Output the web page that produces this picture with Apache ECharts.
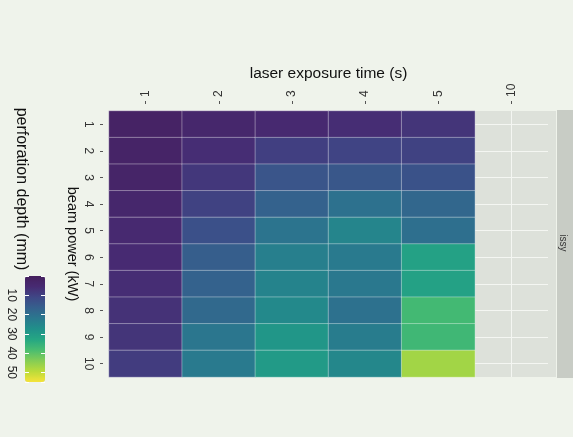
<!DOCTYPE html>
<html>
<head>
<meta charset="utf-8">
<script src="https://cdn.jsdelivr.net/npm/echarts@6/dist/echarts.min.js"></script>
<style>
html,body{margin:0;padding:0;background:#EFF3EB;}
#chart{width:573px;height:437px;}
</style>
</head>
<body>
<div id="chart"></div>
<script>
// ---- data ----
const timeCats = ['1', '2', '3', '4', '5', '10'];          // laser exposure time (s)
const powerCats = ['1', '2', '3', '4', '5', '6', '7', '8', '9', '10']; // beam power (kW)
// perforation depth (mm) per exposure time, ordered by beam power 1..10
const depthT1 = [2, 2.5, 3, 4, 5, 5.5, 6, 7, 7.5, 9];
const depthT2 = [4, 6, 8, 10, 13, 16, 17, 18.5, 21.5, 22.5];
const depthT3 = [5, 9.5, 14, 17, 21, 23.5, 24.5, 26, 29, 30];
const depthT4 = [6, 10.5, 14.5, 20.5, 25, 22.5, 22, 20.5, 23, 25.5];
const depthT5 = [7.5, 10, 13.5, 18, 20, 31.5, 31.5, 37.5, 37, 47];
const legendTicks = [10, 20, 30, 40, 50];
const colorMin = 0, colorMax = 55;
const facetLabel = 'issy';

// viridis, as it appears (slightly washed) in the reference
const palette = ['#451F5D','#472A72','#3F4786','#35608D','#2A788E','#20908A','#25A783','#4ABD70','#85CD55','#BBDB3A','#F5E33A'];

const byTime = [depthT1, depthT2, depthT3, depthT4, depthT5];
const heatData = [];
byTime.forEach((col, i) => col.forEach((v, j) => heatData.push([i, j, v])));

const FONT = '"Liberation Sans", Arial, sans-serif';

const chart = echarts.init(document.getElementById('chart'));
chart.setOption({
  backgroundColor: '#EFF3EB',
  animation: false,
  grid: [
    {left: 109, top: 111, width: 439, height: 266, show: true, backgroundColor: '#DDE1DA', borderWidth: 0},
    {left: 25, top: 276, width: 20, height: 106, show: false}
  ],
  xAxis: [
    {
      type: 'category', data: timeCats, position: 'top', gridIndex: 0, offset: 7,
      name: 'laser exposure time (s)', nameLocation: 'middle', nameGap: 22, nameMoveOverlap: false,
      nameTextStyle: {fontFamily: FONT, fontSize: 15.5, color: '#111'},
      axisLine: {show: false},
      axisTick: {show: true, alignWithLabel: true, length: 3, lineStyle: {color: '#555'}},
      axisLabel: {rotate: -90, margin: 7, fontFamily: FONT, fontSize: 12, color: '#333'},
      splitLine: {show: true, alignWithLabel: true, lineStyle: {color: '#F4F6F2', width: 1}}
    },
    {type: 'value', gridIndex: 1, show: false, min: 0, max: 1}
  ],
  yAxis: [
    {
      type: 'category', data: powerCats, inverse: true, position: 'left', gridIndex: 0, offset: 6,
      name: 'beam power (kW)', nameLocation: 'middle', nameGap: 24, nameRotate: -90, nameMoveOverlap: false,
      nameTextStyle: {fontFamily: FONT, fontSize: 14.5, color: '#111'},
      axisLine: {show: false},
      axisTick: {show: true, alignWithLabel: true, length: 3, lineStyle: {color: '#555'}},
      axisLabel: {rotate: -90, margin: 9, fontFamily: FONT, fontSize: 12, color: '#333'},
      splitLine: {show: true, alignWithLabel: true, lineStyle: {color: '#F4F6F2', width: 1}}
    },
    {
      type: 'value', gridIndex: 1, min: colorMin, max: colorMax, interval: 10, inverse: true,
      position: 'left', z: 10,
      axisLine: {show: false},
      axisTick: {show: true, inside: true, length: 4, lineStyle: {color: '#ffffff', width: 1}},
      axisLabel: {rotate: -90, margin: 8, fontFamily: FONT, fontSize: 12, color: '#222',
        formatter: v => legendTicks.indexOf(v) >= 0 ? String(v) : ''},
      splitLine: {show: false}
    },
    {
      type: 'value', gridIndex: 1, min: colorMin, max: colorMax, interval: 10, inverse: true,
      position: 'right', z: 10,
      axisLine: {show: false},
      axisTick: {show: true, inside: true, length: 4, lineStyle: {color: '#ffffff', width: 1}},
      axisLabel: {show: false},
      splitLine: {show: false}
    }
  ],
  visualMap: {
    type: 'continuous', seriesIndex: 0, min: colorMin, max: colorMax,
    orient: 'vertical', inverse: true, left: 25, top: 276, itemWidth: 20, itemHeight: 106,
    padding: 0, calculable: false, realtime: false, text: ['', ''], showLabel: false,
    inRange: {color: palette}, hoverLink: false
  },
  series: [{
    type: 'heatmap', xAxisIndex: 0, yAxisIndex: 0, data: heatData,
    itemStyle: {borderColor: 'rgba(255,255,255,0.35)', borderWidth: 1},
    emphasis: {disabled: true}
  }],
  graphic: [
    {type: 'rect', shape: {x: 548, y: 111, width: 8, height: 266}, style: {fill: '#DDE1DA'}},
    {type: 'rect', shape: {x: 557, y: 110, width: 20, height: 268}, style: {fill: '#C8CCC5'}},
    {type: 'text', x: 563, y: 243, rotation: -Math.PI / 2,
      style: {text: facetLabel, fontFamily: FONT, fontSize: 10, fill: '#333', align: 'center', verticalAlign: 'middle'}},
    {type: 'text', x: 21, y: 189, rotation: -Math.PI / 2,
      style: {text: 'perforation depth (mm)', fontFamily: FONT, fontSize: 16, fill: '#111', align: 'center', verticalAlign: 'middle'}}
  ]
});
</script>
</body>
</html>
